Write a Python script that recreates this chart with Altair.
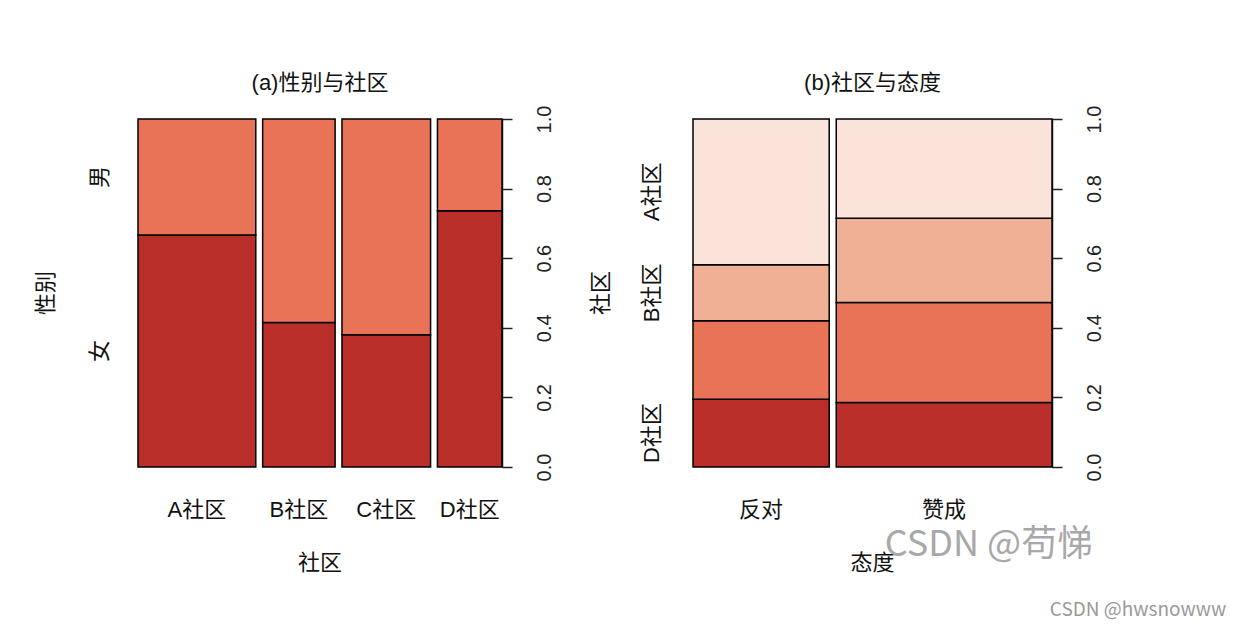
import altair as alt
import pandas as pd

# ---------------- data ----------------
communities = ["A社区", "B社区", "C社区", "D社区"]
community_share = [0.343, 0.211, 0.258, 0.188]      # spine widths
genders = ["女", "男"]                               # bottom -> top
female_share = [0.667, 0.415, 0.380, 0.736]

attitudes = ["反对", "赞成"]
attitude_share = [0.387, 0.613]
stack_order = ["D社区", "C社区", "B社区", "A社区"]   # bottom -> top
oppose_share = [0.195, 0.225, 0.161, 0.419]
support_share = [0.185, 0.288, 0.242, 0.285]
shown_side_labels = ["A社区", "B社区", "D社区"]       # C omitted (overlap) as in the original

y_ticks = [0.0, 0.2, 0.4, 0.6, 0.8, 1.0]

# ---------------- style ----------------
GAP = 0.02
FONT = "Liberation Sans, Noto Sans CJK SC"
H = 348
DARK, ORANGE, SALMON, PALE = "#B92E28", "#E87357", "#F0B096", "#FAE4DA"

# ---------------- tables ----------------
left_rows, left_ticks = [], []
for i, (c, w, f) in enumerate(zip(communities, community_share, female_share)):
    x0 = sum(community_share[:i]) + GAP * i
    x1 = x0 + w
    left_rows.append(dict(cat=c, grp="女", x0=x0, x1=x1, y0=0.0, y1=f))
    left_rows.append(dict(cat=c, grp="男", x0=x0, x1=x1, y0=f, y1=1.0))
    left_ticks.append(dict(label=c, xc=(x0 + x1) / 2))
left_df = pd.DataFrame(left_rows)
left_ticks_df = pd.DataFrame(left_ticks)
left_side_df = pd.DataFrame([
    dict(label="女", yc=female_share[0] / 2),
    dict(label="男", yc=(female_share[0] + 1) / 2),
])
left_xmax = sum(community_share) + GAP * (len(communities) - 1)

right_rows, right_ticks = [], []
for i, (a, w, shares) in enumerate(zip(attitudes, attitude_share, [oppose_share, support_share])):
    x0 = sum(attitude_share[:i]) + GAP * i
    x1 = x0 + w
    acc = 0.0
    for c, s in zip(stack_order, shares):
        right_rows.append(dict(att=a, grp=c, x0=x0, x1=x1, y0=acc, y1=acc + s))
        acc += s
    right_ticks.append(dict(label=a, xc=(x0 + x1) / 2))
right_df = pd.DataFrame(right_rows)
right_ticks_df = pd.DataFrame(right_ticks)
first = right_df[right_df["att"] == attitudes[0]]
right_side_df = pd.DataFrame([
    dict(label=r.grp, yc=(r.y0 + r.y1) / 2) for r in first.itertuples() if r.grp in shown_side_labels
])
right_xmax = sum(attitude_share) + GAP * (len(attitudes) - 1)

Y_AXIS = alt.Axis(
    orient="right", values=y_ticks, format=".1f", title=None, grid=False,
    labelAngle=270, labelAlign="center", labelBaseline="top",
    labelFont=FONT, labelFontSize=20, labelColor="#222",
    labelFlush=False, labelOverlap=False, labelPadding=22,
    tickSize=10, tickColor="#222", tickWidth=1.5,
    domainColor="#222", domainWidth=1.5)


def one(text):
    return pd.DataFrame({"t": [text]})


def panel(rects, xmax, width, cdomain, crange, ticks_df, xtitle, side_df, ytitle, title,
          side_off, spacer=False, extras=None):
    xs = alt.Scale(domain=[0, xmax], nice=False, zero=False, padding=0)
    ys = alt.Scale(domain=[0, 1], nice=False, zero=False, padding=0)
    bars = alt.Chart(rects).mark_rect(stroke="black", strokeWidth=1.5).encode(
        x=alt.X("x0:Q", scale=xs, axis=None),
        x2="x1:Q",
        y=alt.Y("y0:Q", scale=ys, axis=Y_AXIS),
        y2="y1:Q",
        color=alt.Color("grp:N", scale=alt.Scale(domain=cdomain, range=crange), legend=None),
    )
    xlab = alt.Chart(ticks_df).mark_text(font=FONT, fontSize=22, color="#111",
                                         baseline="middle", align="center").encode(
        x=alt.X("xc:Q", scale=xs, axis=None),
        y=alt.value(H + 43),
        text="label:N",
    )
    xt = alt.Chart(one(xtitle)).mark_text(
        font=FONT, fontSize=22, color="#111", baseline="middle", align="center").encode(
        x=alt.value(width / 2), y=alt.value(H + 96), text="t:N")
    slab = alt.Chart(side_df).mark_text(font=FONT, fontSize=22, color="#111", angle=270,
                                        baseline="middle", align="center").encode(
        x=alt.value(side_off),
        y=alt.Y("yc:Q", scale=ys, axis=Y_AXIS),
        text="label:N",
    )
    yt = alt.Chart(one(ytitle)).mark_text(
        font=FONT, fontSize=22, color="#111", angle=270, baseline="middle", align="center").encode(
        x=alt.value(-92), y=alt.value(H / 2), text="t:N")
    tt = alt.Chart(one(title)).mark_text(
        font=FONT, fontSize=22, color="#111", baseline="middle", align="center").encode(
        x=alt.value(width / 2), y=alt.value(-36), text="t:N")
    layers = [bars, xlab, xt, slab, yt, tt]
    if spacer:
        layers.append(alt.Chart(one("")).mark_rule(opacity=0).encode(
            x=alt.value(-138), x2=alt.value(-138), y=alt.value(-119), y2=alt.value(-119)))
    if extras:
        layers += extras
    return alt.layer(*layers).properties(width=width, height=H)


wm1 = alt.Chart(one("CSDN @苟悌")).mark_text(
    font="Noto Sans CJK SC", fontSize=36, color="#9a9a9a", opacity=0.85,
    align="center", baseline="middle").encode(x=alt.value(296), y=alt.value(426), text="t:N")
wm2 = alt.Chart(one("CSDN @hwsnowww")).mark_text(
    font="Noto Sans CJK SC", fontSize=19, color="#999999",
    align="center", baseline="middle").encode(x=alt.value(445), y=alt.value(491), text="t:N")

left = panel(left_df, left_xmax, 364, genders, [DARK, ORANGE], left_ticks_df, "社区",
             left_side_df, "性别", "(a)性别与社区", side_off=-38, spacer=True)
right = panel(right_df, right_xmax, 359, stack_order, [DARK, ORANGE, SALMON, PALE], right_ticks_df,
              "态度", right_side_df, "社区", "(b)社区与态度", side_off=-41, extras=[wm1, wm2])

chart = alt.hconcat(left, right, spacing=191, bounds="flush").resolve_scale(
    color="independent", x="independent", y="independent"
).properties(padding=0, background="white").configure_view(stroke=None)

chart.save("out.html", embed_options={"renderer": "svg", "actions": False})
